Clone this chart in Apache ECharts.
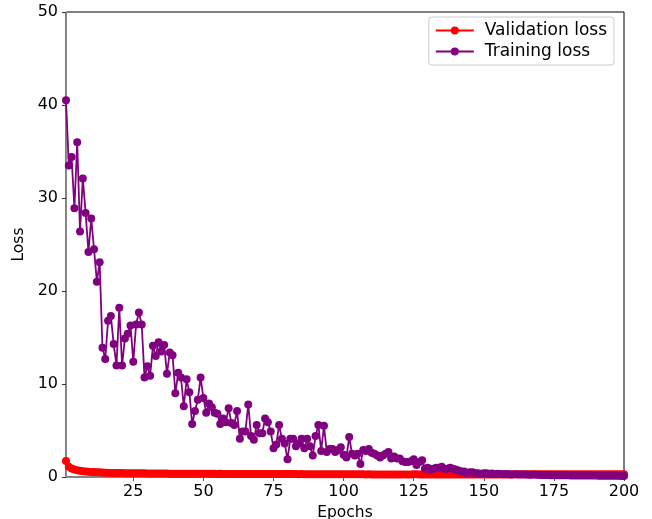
<!DOCTYPE html>
<html>
<head>
<meta charset="utf-8">
<script src="https://cdn.jsdelivr.net/npm/echarts@6/dist/echarts.min.js"></script>
<style>
  html, body { margin: 0; padding: 0; background: #fff; }
  #chart { width: 652px; height: 519px; }
</style>
</head>
<body>
<div id="chart"></div>
<script>
// values
const epochs = Array.from({ length: 200 }, (_, i) => i + 1)
const xTicks = [25, 50, 75, 100, 125, 150, 175, 200]

const validationLoss = [
  1.72, 1.10, 0.92, 0.80, 0.72, 0.66, 0.62, 0.60, 0.57, 0.55,
  0.53, 0.51, 0.50, 0.48, 0.47, 0.45, 0.44, 0.43, 0.43, 0.42,
  0.42, 0.41, 0.41, 0.40, 0.40, 0.40, 0.39, 0.39, 0.39, 0.38,
  0.38, 0.38, 0.38, 0.37, 0.37, 0.37, 0.37, 0.36, 0.36, 0.36,
  0.36, 0.36, 0.35, 0.35, 0.35, 0.35, 0.35, 0.35, 0.34, 0.34,
  0.34, 0.34, 0.34, 0.34, 0.33, 0.34, 0.33, 0.33, 0.33, 0.33,
  0.33, 0.33, 0.33, 0.32, 0.33, 0.32, 0.32, 0.32, 0.32, 0.32,
  0.32, 0.32, 0.31, 0.32, 0.31, 0.31, 0.31, 0.31, 0.31, 0.31,
  0.31, 0.31, 0.31, 0.30, 0.31, 0.30, 0.30, 0.30, 0.30, 0.30,
  0.30, 0.30, 0.30, 0.30, 0.30, 0.30, 0.29, 0.30, 0.29, 0.29,
  0.29, 0.29, 0.29, 0.29, 0.29, 0.29, 0.29, 0.28, 0.29, 0.28,
  0.28, 0.28, 0.28, 0.28, 0.28, 0.28, 0.28, 0.28, 0.28, 0.28,
  0.28, 0.28, 0.28, 0.28, 0.29, 0.29, 0.28, 0.28, 0.28, 0.28,
  0.28, 0.28, 0.28, 0.28, 0.28, 0.28, 0.28, 0.28, 0.28, 0.28,
  0.28, 0.28, 0.28, 0.28, 0.28, 0.28, 0.28, 0.28, 0.28, 0.28,
  0.28, 0.28, 0.28, 0.28, 0.28, 0.28, 0.28, 0.28, 0.28, 0.28,
  0.29, 0.29, 0.29, 0.29, 0.29, 0.29, 0.29, 0.29, 0.29, 0.29,
  0.29, 0.29, 0.29, 0.29, 0.30, 0.30, 0.30, 0.30, 0.30, 0.30,
  0.30, 0.30, 0.30, 0.30, 0.30, 0.30, 0.30, 0.30, 0.30, 0.30,
  0.30, 0.30, 0.30, 0.30, 0.30, 0.30, 0.30, 0.30, 0.30, 0.30
]

const trainingLoss = [
  40.5, 33.5, 34.4, 28.9, 36.0, 26.4, 32.1, 28.4, 24.2, 27.8,
  24.5, 21.0, 23.1, 13.9, 12.7, 16.8, 17.3, 14.3, 12.0, 18.2,
  12.0, 14.9, 15.4, 16.3, 12.4, 16.4, 17.7, 16.4, 10.7, 11.9,
  10.9, 14.1, 13.0, 14.5, 13.5, 14.2, 11.1, 13.4, 13.1, 9.0,
  11.2, 10.7, 7.6, 10.5, 9.1, 5.7, 7.1, 8.3, 10.7, 8.5,
  6.9, 7.9, 7.5, 6.9, 6.8, 5.7, 6.3, 5.9, 7.4, 5.8,
  5.6, 7.1, 4.1, 4.9, 4.9, 7.8, 4.4, 4.0, 5.6, 4.7,
  4.7, 6.3, 5.9, 4.9, 3.1, 3.5, 5.6, 4.1, 3.6, 1.9,
  4.1, 4.1, 3.3, 3.6, 4.1, 3.1, 4.1, 3.3, 2.3, 4.4,
  5.6, 2.8, 5.5, 2.7, 3.0, 3.0, 2.7, 2.9, 3.2, 2.4,
  2.1, 4.3, 2.5, 2.3, 2.5, 1.4, 2.9, 2.8, 3.0, 2.6,
  2.5, 2.3, 2.1, 2.3, 2.5, 2.7, 2.0, 2.2, 2.0, 2.0,
  1.7, 1.6, 1.6, 1.7, 1.9, 1.3, 1.6, 1.8, 0.9, 1.0,
  0.8, 0.9, 1.0, 1.0, 1.1, 0.9, 0.9, 1.0, 0.9, 0.8,
  0.7, 0.6, 0.6, 0.4, 0.5, 0.5, 0.4, 0.4, 0.35, 0.4,
  0.40, 0.35, 0.38, 0.33, 0.35, 0.32, 0.30, 0.33, 0.30, 0.28,
  0.30, 0.27, 0.28, 0.26, 0.27, 0.25, 0.24, 0.26, 0.23, 0.22,
  0.22, 0.21, 0.21, 0.20, 0.20, 0.19, 0.19, 0.18, 0.18, 0.18,
  0.17, 0.17, 0.17, 0.16, 0.16, 0.16, 0.15, 0.15, 0.15, 0.15,
  0.14, 0.14, 0.14, 0.14, 0.13, 0.13, 0.13, 0.13, 0.12, 0.12
]

const font = 'DejaVu Sans'
const myChart = echarts.init(document.getElementById('chart'))

const options = {
  animation: false,
  textStyle: { fontFamily: font },
  grid: {
    left: 66,
    right: 28,
    top: 12,
    bottom: 42,
    outerBoundsMode: 'none',
    containLabel: false,
    show: true,
    borderColor: '#000',
    borderWidth: 1
  },
  legend: {
    orient: 'vertical',
    right: 38,
    top: 17,
    padding: [5, 7, 5, 6],
    itemGap: 4,
    itemWidth: 38,
    itemHeight: 10,
    borderColor: '#ccc',
    borderWidth: 1,
    borderRadius: 3,
    backgroundColor: '#fff',
    textStyle: {
      fontFamily: font,
      fontSize: 17,
      color: '#000',
      padding: [0, 0, 0, 6]
    },
    data: ['Validation loss', 'Training loss']
  },
  xAxis: {
    type: 'value',
    min: 1,
    max: 200,
    name: 'Epochs',
    nameLocation: 'middle',
    nameGap: 25,
    nameTextStyle: { fontFamily: font, fontSize: 15.5, color: '#000' },
    axisLine: { show: true, lineStyle: { color: '#888', width: 1 } },
    axisTick: {
      show: true,
      length: 4,
      customValues: xTicks,
      lineStyle: { color: '#555' }
    },
    axisLabel: {
      customValues: xTicks,
      margin: 7,
      fontFamily: font,
      fontSize: 16,
      color: '#000'
    },
    splitLine: { show: false }
  },
  yAxis: {
    type: 'value',
    min: 0,
    max: 50,
    interval: 10,
    name: 'Loss',
    nameLocation: 'middle',
    nameGap: 35,
    nameTextStyle: { fontFamily: font, fontSize: 15.5, color: '#000' },
    axisLine: { show: true, lineStyle: { color: '#888', width: 1 } },
    axisTick: { show: true, length: 4, lineStyle: { color: '#333' } },
    axisLabel: {
      margin: 8,
      fontFamily: font,
      fontSize: 16,
      color: '#000'
    },
    splitLine: { show: false }
  },
  series: [
    {
      name: 'Validation loss',
      type: 'line',
      symbol: 'circle',
      symbolSize: 8,
      showAllSymbol: true,
      itemStyle: { color: '#ff0000' },
      lineStyle: { color: '#ff0000', width: 1.8 },
      data: epochs.map((e, i) => [e, validationLoss[i]])
    },
    {
      name: 'Training loss',
      type: 'line',
      symbol: 'circle',
      symbolSize: 8,
      showAllSymbol: true,
      itemStyle: { color: '#800080' },
      lineStyle: { color: '#800080', width: 1.8 },
      data: epochs.map((e, i) => [e, trainingLoss[i]])
    }
  ]
}
myChart.setOption(options)
</script>
</body>
</html>
